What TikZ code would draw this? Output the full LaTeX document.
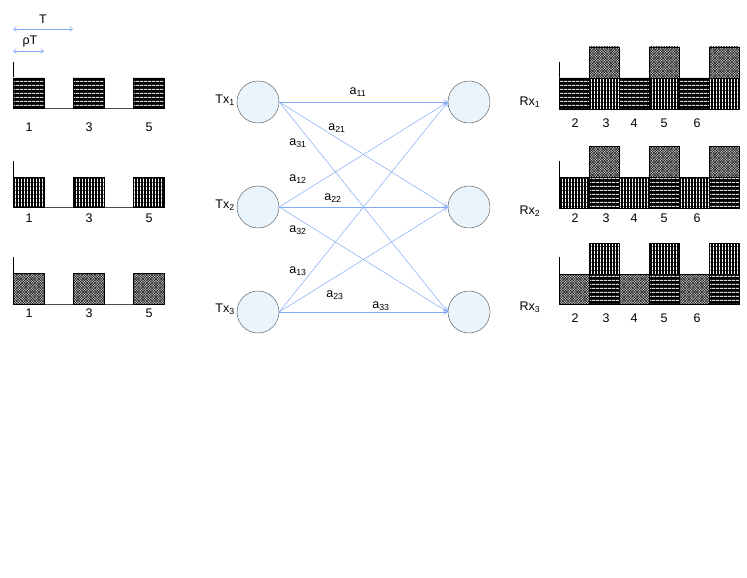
\documentclass[tikz,border=0pt]{standalone}
\usepackage{fontspec}
\setmainfont{Liberation Sans}
\usetikzlibrary{arrows.meta, patterns}

\definecolor{nodefill}{RGB}{234,244,252}
\definecolor{linkblue}{RGB}{128,168,245}

% dense fills for the pulse blocks
\pgfdeclarepatternformonly{hstripes}{\pgfpointorigin}{\pgfqpoint{4pt}{3.6pt}}{\pgfqpoint{4pt}{3.6pt}}%
  {\pgfpathrectangle{\pgfpointorigin}{\pgfqpoint{4pt}{1.3pt}}\pgfusepath{fill}}
\pgfdeclarepatternformonly{vstripes}{\pgfpointorigin}{\pgfqpoint{3.2pt}{4pt}}{\pgfqpoint{3.2pt}{4pt}}%
  {\pgfpathrectangle{\pgfpointorigin}{\pgfqpoint{1.1pt}{4pt}}\pgfusepath{fill}}
\pgfdeclarepatternformonly{hatchdense}{\pgfqpoint{-0.5pt}{-0.5pt}}{\pgfqpoint{3pt}{3pt}}{\pgfqpoint{2.6pt}{2.6pt}}%
  {\pgfsetlinewidth{0.45pt}
   \pgfpathmoveto{\pgfpointorigin}\pgflineto{\pgfqpoint{2.6pt}{2.6pt}}
   \pgfpathmoveto{\pgfqpoint{0pt}{2.6pt}}\pgflineto{\pgfqpoint{2.6pt}{0pt}}\pgfusepath{stroke}}

\begin{document}
\begin{tikzpicture}[
    x=1pt, y=-1pt,
    lbl/.style={font=\fontsize{12.5}{14}\selectfont, inner sep=0pt},
    txnode/.style={circle, draw=gray!60!black, fill=nodefill, minimum size=42pt, inner sep=0pt},
    link/.style={linkblue, line width=0.5pt, -{Straight Barb[length=4pt, width=5pt]}},
    span/.style={linkblue, line width=0.5pt, {Straight Barb[length=3pt, width=5pt]}-{Straight Barb[length=3pt, width=5pt]}},
    hblk/.style={preaction={fill=black}, pattern=hstripes, pattern color=gray!30, draw=black, line width=0.4pt},
    vblk/.style={preaction={fill=black}, pattern=vstripes, pattern color=white, draw=black, line width=0.4pt},
    xblk/.style={preaction={fill=gray!35}, pattern=hatchdense, pattern color=black!90, draw=black, line width=0.4pt}
  ]
    \useasboundingbox (0,0) rectangle (747,578);

    % period markers
    \coordinate (t0) at (13,29);
    \coordinate (t1) at (73,29);
    \coordinate (r0) at (13,51);
    \coordinate (r1) at (44,51);
    \draw[span] (t0) -- (t1);
    \draw[span] (r0) -- (r1);
    \node[lbl] (tlab) at (43,19) {T};
    \node[lbl] (rlab) at (30,41) {ρT};

    % transmitted pulse trains
    \draw[gray!60!black] (44,108) -- (164,108);
    \draw (13,62) -- (13,108);
    \foreach \x in {13,73,133} \path[hblk] (\x,78) rectangle ++(31,30);
    \draw[gray!60!black] (44,207) -- (164,207);
    \draw (13,161) -- (13,207);
    \foreach \x in {13,73,133} \path[vblk] (\x,177) rectangle ++(31,30);
    \draw[gray!60!black] (44,304) -- (164,304);
    \draw (13,257) -- (13,304);
    \foreach \x in {13,73,133} \path[xblk] (\x,273) rectangle ++(31,31);
    \foreach \x/\t in {29/1,89/3,149/5} {
      \node[lbl] (ta-\t) at (\x,127) {\t};
      \node[lbl] (tb-\t) at (\x,218) {\t};
      \node[lbl] (tc-\t) at (\x,313) {\t};
    }

    % transmitters and receivers
    \node[txnode] (tx1) at (258,102) {};
    \node[txnode] (tx2) at (258,207) {};
    \node[txnode] (tx3) at (258,312) {};
    \node[txnode] (rx1) at (469,102) {};
    \node[txnode] (rx2) at (469,207) {};
    \node[txnode] (rx3) at (469,312) {};
    \node[lbl] (txl1) at (225,100) {Tx\textsubscript{1}};
    \node[lbl] (txl2) at (225,205) {Tx\textsubscript{2}};
    \node[lbl] (txl3) at (225,309) {Tx\textsubscript{3}};
    \node[lbl] (rxl1) at (530,102) {Rx\textsubscript{1}};
    \node[lbl] (rxl2) at (530,211) {Rx\textsubscript{2}};
    \node[lbl] (rxl3) at (530,307) {Rx\textsubscript{3}};

    \foreach \i in {1,2,3}
      \foreach \j in {1,2,3}
        \draw[link] (tx\i.east) -- (rx\j.west);

    \node[lbl] (a11) at (358,92) {a\textsubscript{11}};
    \node[lbl] (a21) at (337,128) {a\textsubscript{21}};
    \node[lbl] (a31) at (298,143) {a\textsubscript{31}};
    \node[lbl] (a12) at (298,179) {a\textsubscript{12}};
    \node[lbl] (a22) at (333,198) {a\textsubscript{22}};
    \node[lbl] (a32) at (298,230) {a\textsubscript{32}};
    \node[lbl] (a13) at (298,271) {a\textsubscript{13}};
    \node[lbl] (a23) at (335,295) {a\textsubscript{23}};
    \node[lbl] (a33) at (381,306) {a\textsubscript{33}};

    % received superpositions
    \draw (559,62) -- (559,78);
    \foreach \x in {559,619,679} \path[hblk] (\x,78) rectangle ++(30,31);
    \foreach \x in {589,649,709} {
      \path[vblk] (\x,78) rectangle ++(30,31);
      \path[xblk] (\x,47) rectangle ++(30,31);
    }
    \draw (559,161) -- (559,177);
    \foreach \x in {559,619,679} \path[vblk] (\x,177) rectangle ++(30,31);
    \foreach \x in {589,649,709} {
      \path[hblk] (\x,177) rectangle ++(30,31);
      \path[xblk] (\x,146) rectangle ++(30,31);
    }
    \draw (559,257) -- (559,274);
    \foreach \x in {559,619,679} \path[xblk] (\x,274) rectangle ++(30,30);
    \foreach \x in {589,649,709} {
      \path[hblk] (\x,274) rectangle ++(30,30);
      \path[vblk] (\x,243) rectangle ++(30,31);
    }
    \foreach \x/\t in {575/2,606/3,634/4,664/5,697/6} {
      \node[lbl] (ra-\t) at (\x,123) {\t};
      \node[lbl] (rb-\t) at (\x,218) {\t};
      \node[lbl] (rc-\t) at (\x,318) {\t};
    }
  \end{tikzpicture}
\end{document}
